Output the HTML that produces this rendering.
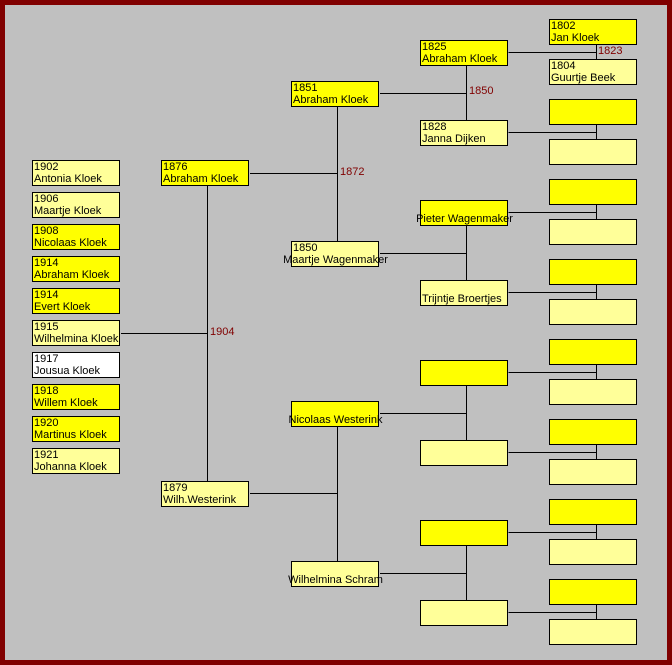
<!DOCTYPE html>
<html><head><style>
body{margin:0;width:672px;height:665px;overflow:hidden}
#f{position:absolute;left:0;top:0;width:662px;height:655px;border:5px solid #800000;background:#c0c0c0}
.b{position:absolute;width:86px;height:24px;border:1px solid #000;font:11px/12px "Liberation Sans",sans-serif;color:#000;padding:0;white-space:nowrap;box-sizing:content-box}
.b span{display:block;padding-left:1px}
.m{background:#ffff00}.w{background:#ffff99}.wh{background:#fff}
.c span.n{text-align:center;margin-left:-10px;margin-right:-10px}
.l{position:absolute;font:11px "Liberation Sans",sans-serif;color:#800000}
svg{position:absolute;left:0;top:0}
</style></head><body>
<div id="f"></div>
<svg width="672" height="665" stroke="#000" stroke-width="1" shape-rendering="crispEdges">
<path d="M508.5 52.5H596.5M596.5 45V59M508.5 132.5H596.5M596.5 125V139
M508.5 212.5H596.5M596.5 205V219M508.5 292.5H596.5M596.5 285V299
M508.5 372.5H596.5M596.5 365V379M508.5 452.5H596.5M596.5 445V459
M508.5 532.5H596.5M596.5 525V539M508.5 612.5H596.5M596.5 605V619
M466.5 66V120M466.5 93.5H380M466.5 226V280M466.5 253.5H380
M466.5 386V440M466.5 413.5H380M466.5 546V600M466.5 573.5H380
M337.5 107V241M337.5 173.5H250M337.5 427V561M337.5 493.5H250
M207.5 186V481M207.5 333.5H121"/>
</svg>
<div class="l" style="left:598px;top:45px">1823</div>
<div class="l" style="left:469px;top:85px">1850</div>
<div class="l" style="left:340px;top:166px">1872</div>
<div class="l" style="left:210px;top:326px">1904</div>

<div class="b m" style="left:549px;top:19px"><span>1802</span><span>Jan Kloek</span></div>
<div class="b w" style="left:549px;top:59px"><span>1804</span><span>Guurtje Beek</span></div>
<div class="b m" style="left:549px;top:99px"></div>
<div class="b w" style="left:549px;top:139px"></div>
<div class="b m" style="left:549px;top:179px"></div>
<div class="b w" style="left:549px;top:219px"></div>
<div class="b m" style="left:549px;top:259px"></div>
<div class="b w" style="left:549px;top:299px"></div>
<div class="b m" style="left:549px;top:339px"></div>
<div class="b w" style="left:549px;top:379px"></div>
<div class="b m" style="left:549px;top:419px"></div>
<div class="b w" style="left:549px;top:459px"></div>
<div class="b m" style="left:549px;top:499px"></div>
<div class="b w" style="left:549px;top:539px"></div>
<div class="b m" style="left:549px;top:579px"></div>
<div class="b w" style="left:549px;top:619px"></div>

<div class="b m" style="left:420px;top:40px"><span>1825</span><span>Abraham Kloek</span></div>
<div class="b w" style="left:420px;top:120px"><span>1828</span><span>Janna Dijken</span></div>
<div class="b m c" style="left:420px;top:200px"><span>&nbsp;</span><span class="n">Pieter Wagenmaker</span></div>
<div class="b w" style="left:420px;top:280px"><span>&nbsp;</span><span>Trijntje Broertjes</span></div>
<div class="b m" style="left:420px;top:360px"></div>
<div class="b w" style="left:420px;top:440px"></div>
<div class="b m" style="left:420px;top:520px"></div>
<div class="b w" style="left:420px;top:600px"></div>

<div class="b m" style="left:291px;top:81px"><span>1851</span><span>Abraham Kloek</span></div>
<div class="b w c" style="left:291px;top:241px"><span>1850</span><span class="n">Maartje Wagenmaker</span></div>
<div class="b m c" style="left:291px;top:401px"><span>&nbsp;</span><span class="n">Nicolaas Westerink</span></div>
<div class="b w c" style="left:291px;top:561px"><span>&nbsp;</span><span class="n">Wilhelmina Schram</span></div>

<div class="b m" style="left:161px;top:160px"><span>1876</span><span>Abraham Kloek</span></div>
<div class="b w" style="left:161px;top:481px"><span>1879</span><span>Wilh.Westerink</span></div>

<div class="b w" style="left:32px;top:160px"><span>1902</span><span>Antonia Kloek</span></div>
<div class="b w" style="left:32px;top:192px"><span>1906</span><span>Maartje Kloek</span></div>
<div class="b m" style="left:32px;top:224px"><span>1908</span><span>Nicolaas Kloek</span></div>
<div class="b m" style="left:32px;top:256px"><span>1914</span><span>Abraham Kloek</span></div>
<div class="b m" style="left:32px;top:288px"><span>1914</span><span>Evert Kloek</span></div>
<div class="b w" style="left:32px;top:320px"><span>1915</span><span>Wilhelmina Kloek</span></div>
<div class="b wh" style="left:32px;top:352px"><span>1917</span><span>Jousua Kloek</span></div>
<div class="b m" style="left:32px;top:384px"><span>1918</span><span>Willem Kloek</span></div>
<div class="b m" style="left:32px;top:416px"><span>1920</span><span>Martinus Kloek</span></div>
<div class="b w" style="left:32px;top:448px"><span>1921</span><span>Johanna Kloek</span></div>
</body></html>
